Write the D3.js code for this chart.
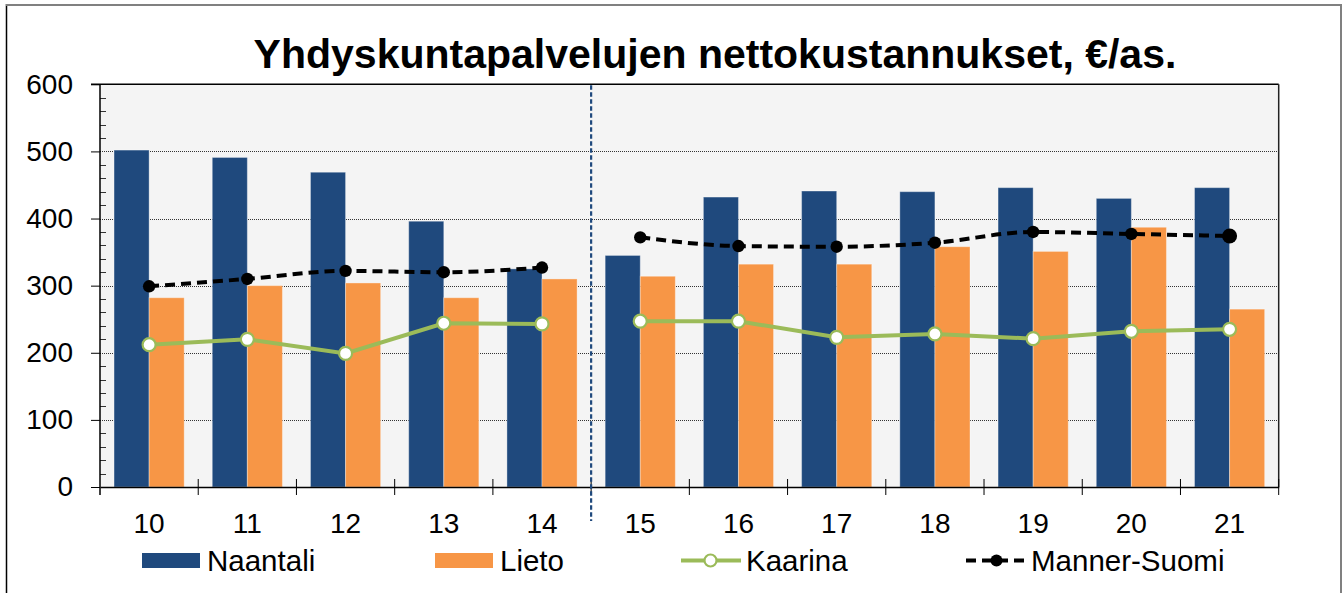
<!DOCTYPE html>
<html>
<head>
    <meta charset="utf-8">
    <title>Yhdyskuntapalvelujen nettokustannukset</title>
    <script src="https://d3js.org/d3.v7.min.js" charset="utf-8"></script>
    <style>
        html, body { margin: 0; padding: 0; background: #fff; }
        svg text { font-family: "Liberation Sans", Arial, sans-serif; fill: #000; }
    </style>
</head>
<body>
<div id="chart"></div>
<script>
    // Chart data
    const years = ["10", "11", "12", "13", "14", "15", "16", "17", "18", "19", "20", "21"];
    const naantali = [502, 491, 469, 396, 325, 345, 432, 441, 440, 446, 430, 446];
    const lieto = [282, 300, 304, 282, 310, 314, 332, 332, 358, 351, 387, 265];
    const kaarina = [212, 220, 199, 244, 243, 247, 247, 223, 228, 221, 232, 235];
    const mannerSuomi = [299, 310, 322, 320, 327, 372, 359, 358, 364, 380, 377, 374];
    const yTicks = [0, 100, 200, 300, 400, 500, 600];
    const breakAfter = "14"; // lines are broken, and a divider drawn, after this year
    const titleText = "Yhdyskuntapalvelujen nettokustannukset, €/as.";

    const width = 1343;
    const height = 593;
    const margin = { top: 84.3, right: 64, bottom: 106, left: 100 };

    const svg = d3.select("#chart")
        .append("svg")
        .attr("width", width)
        .attr("height", height);

    // outer frame
    svg.append("line").attr("x1", 6.5).attr("x2", 6.5).attr("y1", 4).attr("y2", height)
        .attr("stroke", "#000").attr("stroke-width", 1.5);
    svg.append("line").attr("x1", 6).attr("x2", 1342).attr("y1", 5).attr("y2", 5)
        .attr("stroke", "#808080").attr("stroke-width", 2);
    svg.append("line").attr("x1", 1341).attr("x2", 1341).attr("y1", 4).attr("y2", height)
        .attr("stroke", "#808080").attr("stroke-width", 2);

    const x = d3.scaleBand()
        .domain(years)
        .range([margin.left, width - margin.right - 0.3]);

    const xInner = d3.scaleBand()
        .domain(["Naantali", "Lieto"])
        .range([0, x.bandwidth()])
        .paddingOuter(0.4);

    const y = d3.scaleLinear()
        .domain([0, 600])
        .range([height - margin.bottom, margin.top]);

    const x0 = x.range()[0], x1 = x.range()[1];

    // plot area
    svg.append("rect")
        .attr("x", x0).attr("y", y(600))
        .attr("width", x1 - x0).attr("height", y(0) - y(600))
        .attr("fill", "#f4f4f4");

    // gridlines
    svg.append("g")
        .selectAll("line")
        .data(yTicks.filter(t => t > 0 && t < 600))
        .join("line")
        .attr("x1", x0).attr("x2", x1)
        .attr("y1", d => Math.round(y(d)) + 0.5).attr("y2", d => Math.round(y(d)) + 0.5)
        .attr("stroke", "#333")
        .attr("stroke-dasharray", "1,1");

    // bars
    const barColors = { Naantali: "#1f497d", Lieto: "#f79646" };
    const barData = [];
    years.forEach((yr, i) => {
        barData.push({ year: yr, key: "Naantali", value: naantali[i] });
        barData.push({ year: yr, key: "Lieto", value: lieto[i] });
    });

    svg.append("g")
        .selectAll("rect")
        .data(barData)
        .join("rect")
        .attr("x", d => x(d.year) + xInner(d.key))
        .attr("y", d => y(d.value))
        .attr("width", xInner.bandwidth())
        .attr("height", d => y(0) - y(d.value))
        .attr("fill", d => barColors[d.key])
        .attr("stroke", "rgba(255,255,255,0.35)")
        .attr("stroke-width", 1);

    // plot border (top, right)
    svg.append("line").attr("x1", 91).attr("x2", x1).attr("y1", y(600)).attr("y2", y(600))
        .attr("stroke", "#000").attr("stroke-width", 1.5);
    svg.append("line").attr("x1", x1).attr("x2", x1).attr("y1", y(600)).attr("y2", y(0))
        .attr("stroke", "#222").attr("stroke-width", 1.5);

    // y axis: major ticks outside, minor ticks inside
    const yAxis = svg.append("g")
        .attr("transform", `translate(${x0},0)`)
        .call(d3.axisLeft(y).tickValues(yTicks).tickSize(9).tickPadding(18));
    yAxis.select(".domain").remove();
    yAxis.selectAll("text")
        .style("font-size", "28px")
        .style("font-family", "'Liberation Sans', Arial, sans-serif");
    yAxis.selectAll("line").attr("stroke", "#000");

    const minor = d3.range(20, 600, 20).filter(v => v % 100 !== 0);
    svg.append("g")
        .selectAll("line")
        .data(minor)
        .join("line")
        .attr("x1", x0).attr("x2", x0 + 6)
        .attr("y1", d => Math.round(y(d)) + 0.5).attr("y2", d => Math.round(y(d)) + 0.5)
        .attr("stroke", "#333");

    svg.append("line").attr("x1", x0).attr("x2", x0).attr("y1", y(600)).attr("y2", y(0) + 8)
        .attr("stroke", "#000").attr("stroke-width", 1.5);

    // x axis
    const xAxis = svg.append("g")
        .attr("transform", `translate(0,${y(0)})`)
        .call(d3.axisBottom(x).tickSize(0).tickPadding(26));
    xAxis.select(".domain").attr("stroke", "#000").attr("stroke-width", 1.5);
    xAxis.selectAll("text")
        .style("font-size", "28px")
        .style("font-family", "'Liberation Sans', Arial, sans-serif");

    svg.append("g")
        .selectAll("line")
        .data(years.slice(1).map(d => x(d)).concat([x1]))
        .join("line")
        .attr("x1", d => d).attr("x2", d => d)
        .attr("y1", y(0) - 8).attr("y2", y(0) + 8)
        .attr("stroke", "#000").attr("stroke-width", 1);

    // divider between 14 and 15
    const divX = x(breakAfter) + x.bandwidth();
    svg.append("line")
        .attr("x1", divX).attr("x2", divX)
        .attr("y1", y(600) + 1).attr("y2", y(0) + 34)
        .attr("stroke", "#1f497d").attr("stroke-width", 2.2)
        .attr("stroke-dasharray", "4.5,2.5");

    // line series, split at the break
    const cx = d => x(d.year) + x.bandwidth() / 2;
    const breakIndex = years.indexOf(breakAfter) + 1;
    function segments(values) {
        const pts = years.map((yr, i) => ({ year: yr, value: values[i] }));
        return [pts.slice(0, breakIndex), pts.slice(breakIndex)];
    }

    const kaarinaLine = d3.line().x(cx).y(d => y(d.value));
    const msLine = d3.line().x(cx).y(d => y(d.value)).curve(d3.curveMonotoneX);

    svg.append("g")
        .selectAll("path")
        .data(segments(kaarina))
        .join("path")
        .attr("d", kaarinaLine)
        .attr("fill", "none")
        .attr("stroke", "#9bbb59")
        .attr("stroke-width", 4);

    svg.append("g")
        .selectAll("circle")
        .data(segments(kaarina).flat())
        .join("circle")
        .attr("cx", cx).attr("cy", d => y(d.value))
        .attr("r", 6.5)
        .attr("fill", "#fff")
        .attr("stroke", "#9bbb59")
        .attr("stroke-width", 2.2);

    svg.append("g")
        .selectAll("path")
        .data(segments(mannerSuomi))
        .join("path")
        .attr("d", msLine)
        .attr("fill", "none")
        .attr("stroke", "#000")
        .attr("stroke-width", 4)
        .attr("stroke-dasharray", "10,6");

    const msPoints = segments(mannerSuomi).flat();
    svg.append("g")
        .selectAll("circle")
        .data(msPoints)
        .join("circle")
        .attr("cx", cx).attr("cy", d => y(d.value))
        .attr("r", (d, i) => i === msPoints.length - 1 ? 7.5 : 6.2)
        .attr("fill", "#000");

    // title
    svg.append("text")
        .attr("x", 715)
        .attr("y", 68)
        .attr("text-anchor", "middle")
        .style("font-size", "41px")
        .style("font-weight", "bold")
        .text(titleText);

    // legend
    const legendY = 560.5;
    const legend = svg.append("g");
    const legendItems = [
        { name: "Naantali", type: "bar", color: "#1f497d", x: 142 },
        { name: "Lieto", type: "bar", color: "#f79646", x: 435 },
        { name: "Kaarina", type: "open", color: "#9bbb59", x: 681 },
        { name: "Manner-Suomi", type: "dash", color: "#000", x: 966 }
    ];
    legendItems.forEach(item => {
        const g = legend.append("g").attr("transform", `translate(${item.x},${legendY})`);
        if (item.type === "bar") {
            g.append("rect").attr("x", 0).attr("y", -7.5).attr("width", 58).attr("height", 15)
                .attr("fill", item.color);
        } else if (item.type === "open") {
            g.append("line").attr("x1", 0).attr("x2", 60).attr("y1", 0).attr("y2", 0)
                .attr("stroke", item.color).attr("stroke-width", 4);
            g.append("circle").attr("cx", 29.5).attr("cy", 0).attr("r", 6)
                .attr("fill", "#fff").attr("stroke", item.color).attr("stroke-width", 2.2);
        } else {
            g.append("line").attr("x1", 0).attr("x2", 60).attr("y1", 0).attr("y2", 0)
                .attr("stroke", item.color).attr("stroke-width", 4)
                .attr("stroke-dasharray", "10,6");
            g.append("circle").attr("cx", 30.5).attr("cy", 0).attr("r", 6)
                .attr("fill", item.color);
        }
        g.append("text")
            .attr("x", 65)
            .attr("y", 10.5)
            .style("font-size", "29.5px")
            .text(item.name);
    });
</script>
</body>
</html>
